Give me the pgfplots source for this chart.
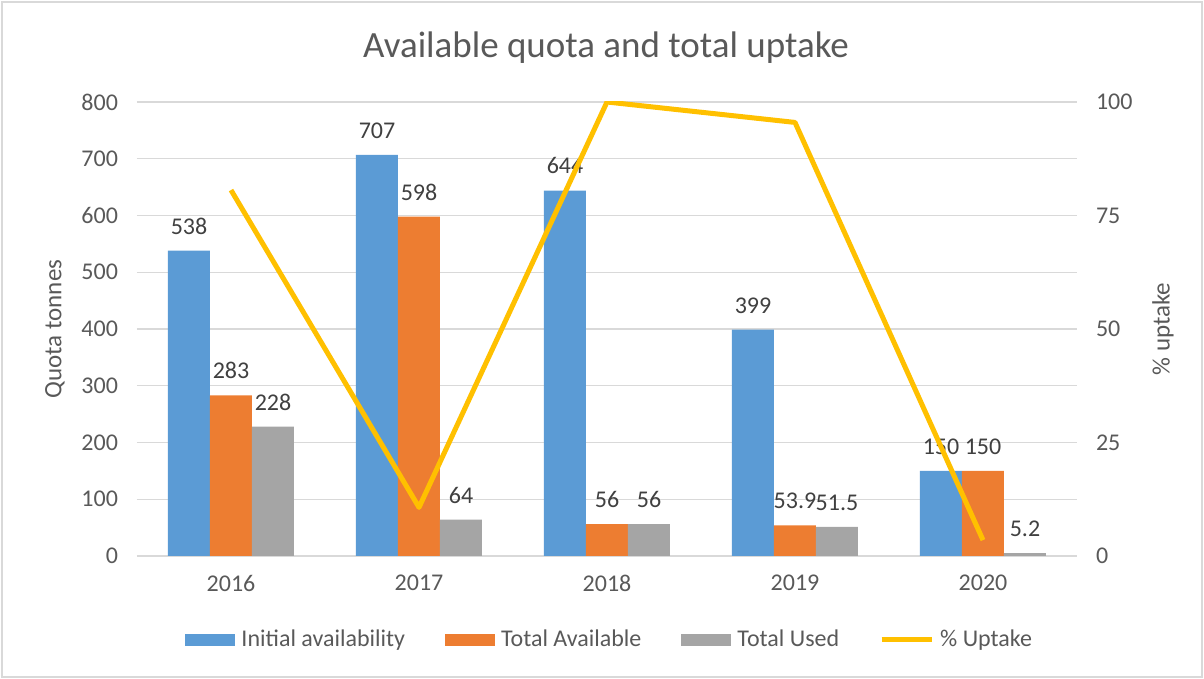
\documentclass[border=0pt]{standalone}
\usepackage{pgfplots}
\pgfplotsset{compat=1.18}
\usepackage{fontspec}
\setmainfont{Carlito}

\definecolor{cBlue}{HTML}{5B9BD5}
\definecolor{cOrange}{HTML}{ED7D31}
\definecolor{cGray}{HTML}{A5A5A5}
\definecolor{cYellow}{HTML}{FFC000}
\definecolor{cText}{HTML}{595959}
\definecolor{cLabel}{HTML}{404040}
\definecolor{cGrid}{HTML}{D9D9D9}

\pgfplotsset{
  barimg/.style={legend image code/.code={\fill[##1, draw=none] (0pt,-3pt) rectangle (25pt,3pt);}},
  lineimg/.style={legend image code/.code={\draw[##1] (0pt,0pt) -- (25pt,0pt);}},
}

\begin{document}
\begin{tikzpicture}
% page size and outer frame
\path (-68.5pt,-61.5pt) rectangle (533.5pt,278pt);

% bars, left axis
\begin{axis}[
    at={(0,0)}, anchor=south west,
    scale only axis, width=470pt, height=227pt,
    xmin=-0.5, xmax=4.5,
    ymin=0, ymax=800,
    ytick={0,100,...,800},
    xtick={0,1,2,3,4},
    xticklabels={2016,2017,2018,2019,2020},
    ybar, bar width=21pt,
    axis y line*=left, axis x line*=bottom,
    y axis line style={draw=none},
    x axis line style={cGrid, line width=0.6pt},
    major tick length=0pt,
    ymajorgrids, grid style={cGrid, line width=0.6pt},
    tick label style={font=\fontsize{12}{14}\selectfont, text=cText},
    /pgf/number format/assume math mode=true,
    yticklabel style={xshift=-6pt},
    xticklabel style={yshift=-6pt},
    ylabel={Quota tonnes},
    every axis y label/.style={at={(axis description cs:-0.0872,0.5)}, rotate=90, anchor=center,
        font=\fontsize{12.5}{14}\selectfont, text=cText},
    title={Available quota and total uptake},
    every axis title/.style={at={(axis description cs:0.499,1.119)}, anchor=center,
        font=\fontsize{18.5}{20}\selectfont, text=cText},
    nodes near coords,
    every node near coord/.append style={font=\fontsize{12}{14}\selectfont, text=cLabel,
        anchor=south, inner sep=0pt, yshift=8pt,
        /pgf/number format/assume math mode=true},
  ]
  \addplot[fill=cBlue, draw=none, bar shift=-21pt] coordinates {
    (0,538) (1,707) (2,644) (3,399) (4,150)
  };
  \addplot[fill=cOrange, draw=none, bar shift=0pt] coordinates {
    (0,283) (1,598) (2,56) (3,53.9) (4,150)
  };
  \addplot[fill=cGray, draw=none, bar shift=21pt] coordinates {
    (0,228) (1,64) (2,56) (3,51.5) (4,5.2)
  };
\end{axis}

% line, right axis
\begin{axis}[
    at={(0,0)}, anchor=south west,
    scale only axis, width=470pt, height=227pt,
    xmin=-0.5, xmax=4.5,
    ymin=0, ymax=100,
    ytick={0,25,...,100},
    axis y line*=right, axis x line=none,
    y axis line style={draw=none},
    major tick length=0pt,
    tick label style={font=\fontsize{12}{14}\selectfont, text=cText},
    /pgf/number format/assume math mode=true,
    yticklabel style={xshift=6pt},
    ylabel={\% uptake},
    every axis y label/.style={at={(axis description cs:1.0915,0.5)}, rotate=90, anchor=center,
        font=\fontsize{12.5}{14}\selectfont, text=cText},
    legend columns=4,
    legend style={draw=none, fill=none, at={(axis description cs:0.504,-0.185)}, anchor=center,
        font=\fontsize{12}{14}\selectfont, text=cText,
        /tikz/every even column/.append style={column sep=18pt},
        /tikz/every odd column/.append style={column sep=1pt}},
  ]
  \addlegendimage{barimg, fill=cBlue}
  \addlegendentry{Initial availability}
  \addlegendimage{barimg, fill=cOrange}
  \addlegendentry{Total Available}
  \addlegendimage{barimg, fill=cGray}
  \addlegendentry{Total Used}
  \addplot[lineimg, cYellow, line width=2.5pt, line join=round, mark=none] coordinates {
    (0,80.6) (1,10.7) (2,100) (3,95.5) (4,3.5)
  };
  \addlegendentry{\% Uptake}
\end{axis}

\draw[cGrid, line width=1pt] (-67.5pt,-60.5pt) rectangle (532.5pt,277pt);
\end{tikzpicture}
\end{document}
